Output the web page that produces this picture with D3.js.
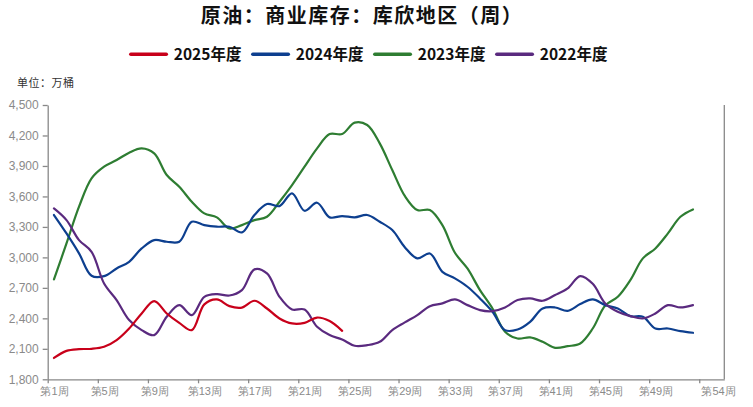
<!DOCTYPE html>
<html>
<head>
<meta charset="utf-8">
<script src="https://cdn.jsdelivr.net/npm/d3@7"></script>
<style>
  html, body { margin: 0; padding: 0; background: #ffffff; }
  svg { display: block; }
</style>
</head>
<body>
<div id="chart"></div>
<script>
// ---- data ----
const seriesNames = ["2025年度", "2024年度", "2023年度", "2022年度"];
const seriesColors = ["#c8001a", "#0d3f8f", "#2e7d32", "#5a2a7f"];
const values2025 = [2010, 2080, 2097, 2100, 2120, 2186, 2300, 2448, 2570, 2448, 2356, 2284, 2537, 2586, 2520, 2506, 2573, 2497, 2399, 2350, 2356, 2408, 2373, 2277];
const values2024 = [3417, 3236, 3040, 2819, 2816, 2891, 2957, 3088, 3170, 3154, 3154, 3351, 3318, 3302, 3302, 3246, 3417, 3525, 3505, 3630, 3459, 3538, 3394, 3407, 3394, 3417, 3351, 3269, 3100, 2990, 3039, 2858, 2793, 2711, 2596, 2465, 2284, 2290, 2366, 2497, 2507, 2474, 2540, 2586, 2530, 2497, 2422, 2415, 2300, 2300, 2274, 2258];
const values2023 = [2783, 3138, 3499, 3778, 3893, 3958, 4031, 4073, 4024, 3811, 3696, 3548, 3433, 3394, 3285, 3318, 3367, 3400, 3548, 3712, 3893, 4073, 4214, 4214, 4326, 4303, 4122, 3860, 3605, 3466, 3466, 3318, 3046, 2891, 2678, 2497, 2268, 2202, 2212, 2169, 2110, 2126, 2153, 2300, 2526, 2612, 2776, 2990, 3088, 3236, 3400, 3472];
const values2022 = [3482, 3367, 3170, 3055, 2743, 2580, 2383, 2284, 2235, 2416, 2530, 2432, 2612, 2639, 2625, 2678, 2882, 2842, 2612, 2487, 2487, 2317, 2235, 2192, 2130, 2136, 2169, 2284, 2360, 2432, 2520, 2547, 2586, 2530, 2481, 2471, 2507, 2580, 2596, 2573, 2629, 2694, 2816, 2740, 2547, 2465, 2422, 2399, 2448, 2530, 2507, 2530];
const yTicks = [1800, 2100, 2400, 2700, 3000, 3300, 3600, 3900, 4200, 4500];
const xTickWeeks = [1, 5, 9, 13, 17, 21, 25, 29, 33, 37, 41, 45, 49, 53];
const xLabelWeeks = [1, 5, 9, 13, 17, 21, 25, 29, 33, 37, 41, 45, 49, 54];
const titleText = "原油：商业库存：库欣地区（周）";
const unitText = "单位：万桶";

const allValues = [values2025, values2024, values2023, values2022];

// ---- layout ----
const W = 753, H = 407;
const plotLeft = 47.7, plotRight = 724.3, plotTop = 105, plotBottom = 379.3;

const svg = d3.select("#chart").append("svg")
  .attr("width", W).attr("height", H)
  .style("font-family", "'Noto Sans CJK SC', sans-serif");

const x = d3.scaleLinear().domain([0.5, 54.5]).range([plotLeft, plotRight]);
const y = d3.scaleLinear().domain([1800, 4500]).range([plotBottom, plotTop]);

// title
svg.append("text")
  .attr("x", 362).attr("y", 23)
  .attr("text-anchor", "middle")
  .attr("font-size", 20)
  .attr("font-weight", 700)
  .attr("letter-spacing", 1.5)
  .attr("fill", "#111")
  .text(titleText);

// legend
const legend = svg.append("g").attr("transform", "translate(129.3,54.3)");
const items = legend.selectAll("g").data(seriesNames).join("g")
  .attr("transform", (d, i) => `translate(${i * 122},0)`);
items.append("line")
  .attr("x1", 1.5).attr("x2", 37)
  .attr("y1", 0).attr("y2", 0)
  .attr("stroke", (d, i) => seriesColors[i])
  .attr("stroke-width", 3.5)
  .attr("stroke-linecap", "round");
items.append("text")
  .attr("x", 44.5).attr("y", 5.5)
  .attr("font-size", 15.5)
  .attr("font-weight", 700)
  .attr("fill", "#111")
  .text(d => d);

// unit
svg.append("text")
  .attr("x", 17).attr("y", 86.5)
  .attr("font-size", 11)
  .attr("fill", "#333")
  .attr("letter-spacing", 0.5)
  .text(unitText);

// y axis
const yAxis = svg.append("g")
  .attr("transform", `translate(${plotLeft},0)`)
  .call(d3.axisLeft(y).tickValues(yTicks).tickFormat(d3.format(",")).tickSize(5).tickSizeOuter(0).tickPadding(4));
yAxis.select(".domain").attr("stroke", "#888").attr("stroke-width", 1.3);
yAxis.selectAll(".tick line").attr("stroke", "#888").attr("stroke-width", 1.3);
yAxis.selectAll(".tick text")
  .attr("fill", "#8a8a8a")
  .attr("font-size", 12)
  .style("font-family", "'Liberation Sans', Arial, sans-serif");

// right border line
svg.append("line")
  .attr("x1", plotRight).attr("x2", plotRight)
  .attr("y1", plotTop).attr("y2", plotBottom)
  .attr("stroke", "#888").attr("stroke-width", 1.3);

// x axis: tick marks at category boundaries
const xAxis = svg.append("g")
  .attr("transform", `translate(0,${plotBottom})`)
  .call(d3.axisBottom(x).tickValues(xTickWeeks.map(w => w - 0.5)).tickFormat("").tickSize(4).tickSizeOuter(0));
xAxis.select(".domain").attr("stroke", "#888").attr("stroke-width", 1.3);
xAxis.selectAll(".tick line").attr("stroke", "#888").attr("stroke-width", 1.3);

// x labels at category centers
const xLabels = svg.append("g")
  .attr("transform", `translate(0,${plotBottom})`)
  .call(d3.axisBottom(x).tickValues(xLabelWeeks).tickFormat(w => `第${w}周`).tickSize(0).tickPadding(8));
xLabels.select(".domain").remove();
xLabels.selectAll(".tick text")
  .attr("fill", "#8a8a8a")
  .attr("font-size", 11);

// lines
const line = d3.line()
  .x((d, i) => x(i + 1))
  .y(d => y(d))
  .curve(d3.curveCatmullRom.alpha(0.5));

const order = [2, 1, 3, 0]; // draw order: 2023, 2024, 2022, 2025
svg.append("g").selectAll("path").data(order).join("path")
  .attr("d", i => line(allValues[i]))
  .attr("fill", "none")
  .attr("stroke", i => seriesColors[i])
  .attr("stroke-width", 2.2)
  .attr("stroke-linejoin", "round")
  .attr("stroke-linecap", "round");
</script>
</body>
</html>
